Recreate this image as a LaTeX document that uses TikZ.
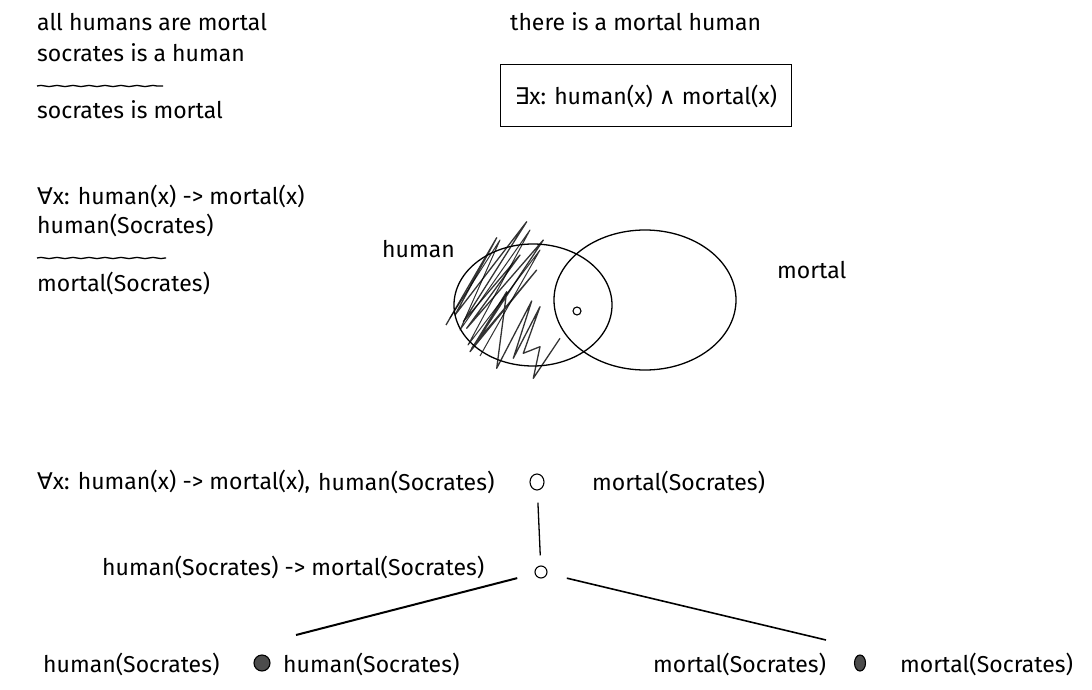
\documentclass[tikz,border=0pt]{standalone}
\usepackage{fontspec}
\setmainfont{Fira Sans}
\newfontfamily\symf{DejaVu Sans}
\usetikzlibrary{decorations.pathmorphing,shapes.geometric}
\tikzset{
  txt/.style={anchor=west, inner sep=0pt, font=\fontsize{23}{27}\selectfont},
  wavy/.style={line width=1.3pt, decorate, decoration={zigzag, segment length=16pt, amplitude=0.6pt}},
  pen/.style={line width=1.3pt, black},
  dot/.style={circle, draw, line width=1.1pt, inner sep=0pt},
  scrib/.style={line width=1.3pt, black, opacity=0.8, line join=round},
}
\begin{document}
\begin{tikzpicture}[x=1pt,y=-1pt]
\useasboundingbox (0,0) rectangle (1092,690);
% top-left syllogism
\node[txt] (t1) at (37,22) {all humans are mortal};
\node[txt] (t2) at (37,53) {socrates is a human};
\coordinate (w1a) at (37,86); \coordinate (w1b) at (163,86);
\draw[wavy] (w1a) -- (w1b);
\node[txt] (t3) at (37,110) {socrates is mortal};
% top-right
\node[txt] (e1) at (510,22) {there is a mortal human};
\node[txt, draw, line width=1pt, minimum width=291pt, minimum height=62pt, inner xsep=14pt, anchor=west] (box) at (500,96) {{\symf ∃}x: human(x) {\symf ∧} mortal(x)\hfill};
% formal syllogism
\node[txt] (f1) at (37,196) {{\symf ∀}x: human(x) -> mortal(x)};
\node[txt] (f2) at (37,225) {human(Socrates)};
\coordinate (w2a) at (37,258); \coordinate (w2b) at (166,258);
\draw[wavy] (w2a) -- (w2b);
\node[txt] (f3) at (37,283) {mortal(Socrates)};
% venn
\node[txt] (lh) at (382,249) {human};
\node[txt] (lm) at (777,270) {mortal};
\draw[scrib] (446,325) -- (496.7,237.7) -- (455,315) -- (526.7,221.7) -- (463.3,321.7)
  -- (520,255) -- (466.7,328.3) -- (543.3,240) -- (471.7,348.3) -- (526.7,265)
  -- (476.7,341.7) -- (536.7,270) -- (470,351.7) -- (506.7,291.7) -- (496.7,368.3)
  -- (531.7,301) -- (513.3,358.3) -- (540,306.7) -- (523.3,353.3) -- (540,346.7)
  -- (533.3,378.3) -- (560,338.3);
\draw[scrib, line width=1pt] (450,318) -- (500,240) -- (460,330) -- (530,230) -- (468,345) -- (540,250) -- (480,356);
\node[draw, ellipse, pen, minimum width=158pt, minimum height=122pt] (eh) at (533,305) {};
\node[draw, ellipse, pen, minimum width=182pt, minimum height=140pt] (em) at (645,300) {};
\node[dot, minimum size=8pt] (x) at (577,311) {};
% tableau
\node[txt] (b1) at (37,482) {{\symf ∀}x: human(x) -> mortal(x),};
\node[txt] (b2) at (318,482) {human(Socrates)};
\node[dot, ellipse, minimum width=14pt, minimum height=16pt] (n1) at (537,482) {};
\node[txt] (b3) at (592,482) {mortal(Socrates)};
\node[txt] (c1) at (102,567) {human(Socrates) -> mortal(Socrates)};
\node[dot, minimum size=12pt] (n2) at (541,572) {};
\draw[pen, shorten <=12pt, shorten >=10pt] (n1) -- (n2);
\coordinate (lL) at (296,635);
\coordinate (lR) at (826,640);
\draw[line width=2pt, shorten <=18pt] (n2) -- (lL);
\draw[line width=1.6pt, shorten <=20pt] (n2) -- (lR);
\node[txt] (d1) at (43,664) {human(Socrates)};
\node[dot, fill=black!70, minimum size=16pt] (s1) at (262,663) {};
\node[txt] (d2) at (283,664) {human(Socrates)};
\node[txt] (d3) at (653,664) {mortal(Socrates)};
\node[dot, ellipse, fill=black!70, minimum width=11pt, minimum height=16pt] (s2) at (860,663) {};
\node[txt] (d4) at (900,664) {mortal(Socrates)};
\end{tikzpicture}
\end{document}
